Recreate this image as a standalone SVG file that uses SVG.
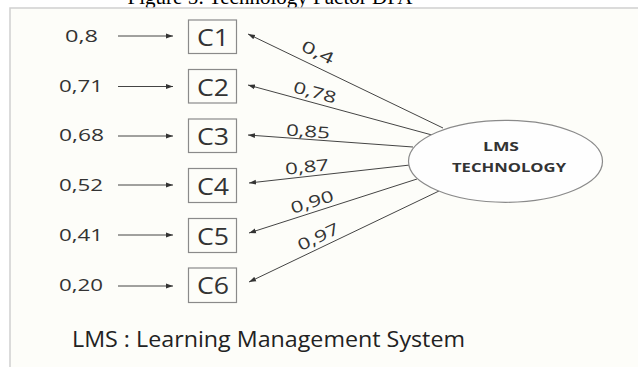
<svg xmlns="http://www.w3.org/2000/svg" width="638" height="367" viewBox="0 0 638 367">
<defs>
<marker id="ah" markerWidth="8" markerHeight="6" refX="7" refY="3" orient="auto" markerUnits="userSpaceOnUse">
<path d="M0,0.6 L7,3 L0,5.4 Z" fill="#333"/>
</marker>
<style>
.lbl{font-family:"Open Sans","DejaVu Sans",sans-serif;font-size:16px;fill:#333;text-anchor:middle}
.box{fill:none;stroke:#8a8a8a;stroke-width:1.2}
.ct{font-family:"Open Sans","DejaVu Sans",sans-serif;font-size:23px;fill:#333;text-anchor:middle}
.ln{stroke:#444;stroke-width:1;fill:none;marker-end:url(#ah)}
.el{font-family:"Open Sans","DejaVu Sans",sans-serif;font-size:13px;font-weight:bold;fill:#333;text-anchor:middle}
</style>
</defs>
<rect x="0" y="0" width="638" height="367" fill="#ffffff"/>
<text x="270" y="4" font-family="'Liberation Serif','Times New Roman',serif" font-size="21" text-anchor="middle" fill="#000" textLength="285" lengthAdjust="spacingAndGlyphs">Figure 5: Technology Factor DFA</text>
<rect x="10" y="8" width="640" height="370" fill="#fdfdf9" stroke="#cfcfcf" stroke-width="1.5"/>

<g id="connectors">
<line class="ln" x1="118" y1="36" x2="173" y2="36"/>
<line class="ln" x1="118" y1="86.5" x2="173" y2="86.5"/>
<line class="ln" x1="118" y1="136" x2="173" y2="136"/>
<line class="ln" x1="118" y1="185" x2="173" y2="185"/>
<line class="ln" x1="118" y1="235" x2="173" y2="235"/>
<line class="ln" x1="118" y1="286" x2="173" y2="286"/>
<line class="ln" x1="443" y1="128" x2="248" y2="34"/>
<line class="ln" x1="432" y1="135" x2="248" y2="85"/>
<line class="ln" x1="413" y1="147" x2="248" y2="135"/>
<line class="ln" x1="410" y1="165" x2="249" y2="183"/>
<line class="ln" x1="417" y1="179" x2="249" y2="233"/>
<line class="ln" x1="439" y1="191" x2="249" y2="282"/>
<g class="lbl">
<text transform="translate(318,52) rotate(25.7)" x="0" y="6" textLength="34" lengthAdjust="spacingAndGlyphs">0,4</text>
<text transform="translate(315,92) rotate(15.2)" x="0" y="6" textLength="44" lengthAdjust="spacingAndGlyphs">0,78</text>
<text transform="translate(308,131) rotate(4)" x="0" y="6" textLength="44" lengthAdjust="spacingAndGlyphs">0,85</text>
<text transform="translate(307,166.5) rotate(-6.2)" x="0" y="6" textLength="44" lengthAdjust="spacingAndGlyphs">0,87</text>
<text transform="translate(312,201.5) rotate(-17.7)" x="0" y="6" textLength="44" lengthAdjust="spacingAndGlyphs">0,90</text>
<text transform="translate(318,236.5) rotate(-25.4)" x="0" y="6" textLength="44" lengthAdjust="spacingAndGlyphs">0,97</text>
</g>
</g>

<g id="e1"><text class="lbl" x="81.5" y="41.7" textLength="33" lengthAdjust="spacingAndGlyphs">0,8</text></g>
<g id="e2"><text class="lbl" x="81" y="91.7" textLength="44" lengthAdjust="spacingAndGlyphs">0,71</text></g>
<g id="e3"><text class="lbl" x="81.5" y="140.7" textLength="45" lengthAdjust="spacingAndGlyphs">0,68</text></g>
<g id="e4"><text class="lbl" x="81" y="191.2" textLength="44" lengthAdjust="spacingAndGlyphs">0,52</text></g>
<g id="e5"><text class="lbl" x="81" y="241.2" textLength="44" lengthAdjust="spacingAndGlyphs">0,41</text></g>
<g id="e6"><text class="lbl" x="81" y="290.5" textLength="44" lengthAdjust="spacingAndGlyphs">0,20</text></g>

<g id="C1"><rect class="box" x="188.5" y="20" width="48" height="33.5"/><text class="ct" x="213" y="46" textLength="32" lengthAdjust="spacingAndGlyphs">C1</text></g>
<g id="C2"><rect class="box" x="188.5" y="69.5" width="48" height="33.5"/><text class="ct" x="213" y="95.5" textLength="32" lengthAdjust="spacingAndGlyphs">C2</text></g>
<g id="C3"><rect class="box" x="188.5" y="119" width="48" height="33.5"/><text class="ct" x="213" y="145" textLength="32" lengthAdjust="spacingAndGlyphs">C3</text></g>
<g id="C4"><rect class="box" x="188.5" y="168.5" width="48" height="34"/><text class="ct" x="213" y="194.5" textLength="32" lengthAdjust="spacingAndGlyphs">C4</text></g>
<g id="C5"><rect class="box" x="188.5" y="218.5" width="48" height="34"/><text class="ct" x="213" y="244.5" textLength="32" lengthAdjust="spacingAndGlyphs">C5</text></g>
<g id="C6"><rect class="box" x="188.5" y="268" width="48" height="34.5"/><text class="ct" x="213" y="294" textLength="32" lengthAdjust="spacingAndGlyphs">C6</text></g>

<g id="LMS">
<ellipse cx="505.5" cy="161.3" rx="97" ry="41" fill="#fefefe" stroke="#8a8a8a" stroke-width="1.2"/>
<text class="el" x="501" y="150.7" textLength="36" lengthAdjust="spacingAndGlyphs">LMS</text>
<text class="el" x="509" y="171.7" textLength="114" lengthAdjust="spacingAndGlyphs">TECHNOLOGY</text>
</g>

<text x="268.5" y="346.7" font-family="'Open Sans','DejaVu Sans',sans-serif" font-size="21" fill="#222" text-anchor="middle" textLength="393" lengthAdjust="spacingAndGlyphs">LMS : Learning Management System</text>
</svg>
